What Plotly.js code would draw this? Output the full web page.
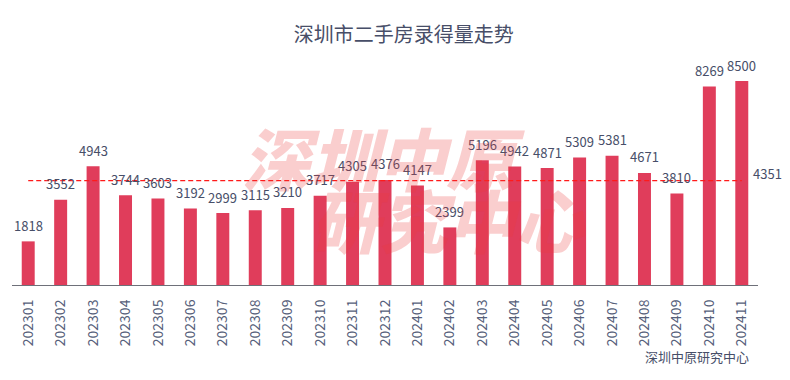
<!DOCTYPE html>
<html>
<head>
<meta charset="utf-8">
<script src="https://cdn.plot.ly/plotly-3.0.1.min.js"></script>
<style>
html,body{margin:0;padding:0;background:#fff;}
#chart{width:790px;height:380px;}
</style>
</head>
<body>
<div id="chart"></div>
<script>
var categories = ["202301","202302","202303","202304","202305","202306","202307","202308","202309","202310","202311","202312",
                  "202401","202402","202403","202404","202405","202406","202407","202408","202409","202410","202411"];
var volumes = [1818,3552,4943,3744,3603,3192,2999,3115,3210,3717,4305,4376,4147,2399,5196,4942,4871,5309,5381,4671,3810,8269,8500];
var averageValue = 4351;
var titleText = "深圳市二手房录得量走势";
var sourceText = "深圳中原研究中心";
var watermarkRows = ["深圳中原", "研究中心"];

var FONT = '"Noto Sans CJK SC", "Noto Sans", sans-serif';
var TEXT = '#474e68';
var last = categories.length - 1;

var bars = {
  type: 'bar',
  x: categories,
  y: volumes,
  marker: {color: '#e03d5b'},
  hoverinfo: 'x+y',
  showlegend: false
};

var avgLine = {
  type: 'scatter',
  mode: 'lines',
  x: [categories[0], categories[last]],
  y: [averageValue, averageValue],
  line: {color: '#ff1a1a', width: 1.2, dash: '5px,3px'},
  hoverinfo: 'skip',
  showlegend: false
};

var annotations = categories.map(function(c, i) {
  return {
    x: i, y: volumes[i], xref: 'x', yref: 'y',
    text: String(volumes[i]), showarrow: false,
    yanchor: 'middle', yshift: 16,
    font: {family: FONT, size: 13, color: TEXT}
  };
});

annotations.push({
  x: last, y: averageValue, xref: 'x', yref: 'y',
  text: String(averageValue), showarrow: false,
  xanchor: 'left', yanchor: 'middle', xshift: 9, yshift: 7,
  font: {family: FONT, size: 13, color: TEXT}
});

annotations.push({
  x: 0.9906, y: -0.3156, xref: 'paper', yref: 'paper',
  text: sourceText, showarrow: false, xanchor: 'right', yanchor: 'middle',
  font: {family: FONT, size: 13, color: TEXT}
});

annotations.push({
  x: 0.498, y: 0.569, xref: 'paper', yref: 'paper',
  text: watermarkRows[0], showarrow: false, xanchor: 'center', yanchor: 'middle',
  font: {family: FONT, size: 68, color: 'rgba(235,60,60,0.25)', weight: 900, style: 'italic'}
});
annotations.push({
  x: 0.5845, y: 0.295, xref: 'paper', yref: 'paper',
  text: watermarkRows[1], showarrow: false, xanchor: 'center', yanchor: 'middle',
  font: {family: FONT, size: 68, color: 'rgba(235,60,60,0.25)', weight: 900, style: 'italic'}
});

var layout = {
  width: 790, height: 380,
  margin: {l: 12, r: 32, t: 60, b: 95},
  paper_bgcolor: '#fff', plot_bgcolor: '#fff',
  font: {family: FONT, color: TEXT},
  title: {
    text: titleText, x: 0.525, xanchor: 'center', y: 0.908, yanchor: 'middle',
    xref: 'paper', yref: 'container',
    font: {family: FONT, size: 20, color: TEXT}
  },
  bargap: 0.6,
  xaxis: {
    type: 'category',
    range: [-0.5, last + 0.5],
    showline: true, linecolor: '#6e7079', linewidth: 1,
    showgrid: false, zeroline: false, ticks: '',
    tickangle: -90, ticklabelstandoff: 8,
    tickfont: {family: FONT, size: 14, color: '#56607a'}
  },
  yaxis: {
    range: [0, 9375], visible: false, showgrid: false, zeroline: false
  },
  annotations: annotations
};

Plotly.newPlot('chart', [bars, avgLine], layout, {displayModeBar: false, staticPlot: true});
</script>
</body>
</html>
